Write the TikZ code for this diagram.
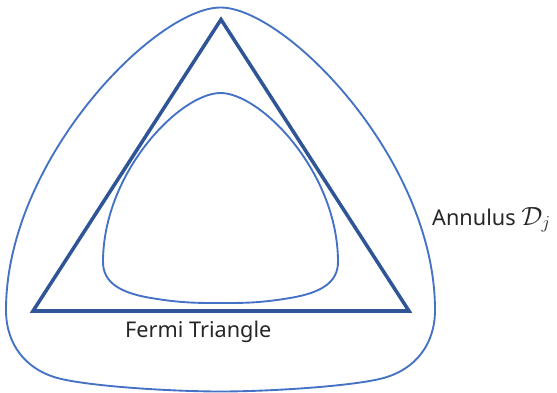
\documentclass[tikz,border=0pt]{standalone}
\usepackage{graphicx}
\usepackage{fontspec}
\setmainfont{Noto Sans}
\begin{document}
\begin{tikzpicture}[x=0.03cm,y=-0.03cm,
  curve/.style={draw=curveblue,line width=1.6pt},
  tri/.style={draw=triblue,line width=3pt,line join=miter},
  lab/.style={font=\fontsize{18.5}{22}\selectfont,text=black!85,inner sep=0pt}]
\definecolor{curveblue}{HTML}{4472C4}
\definecolor{triblue}{HTML}{2F5597}
\useasboundingbox (0,0) rectangle (557,393);
% outer curve (annulus boundary)
\draw[curve] (220.5,7.5) .. controls (285.5,7.5) and (435,160) .. (435,310)
  .. controls (435,345) and (415,368) .. (387,377)
  .. controls (359,386) and (270,391.5) .. (220.5,391.5)
  .. controls (171,391.5) and (82,386) .. (54,377)
  .. controls (26,368) and (6,345) .. (6,310)
  .. controls (6,160) and (155.5,7.5) .. cycle;
% inner curve
\draw[curve] (220.5,93) .. controls (260.5,93) and (338,172) .. (338,262)
  .. controls (338,283) and (320,293) .. (290,298)
  .. controls (260,303) and (245,303) .. (220.5,303)
  .. controls (196,303) and (181,303) .. (151,298)
  .. controls (121,293) and (103,283) .. (103,262)
  .. controls (103,172) and (180.5,93) .. cycle;
% Fermi triangle
\coordinate (A) at (221,19.5);
\coordinate (B) at (33,311);
\coordinate (C) at (409,311);
\draw[tri] (A) -- (B) -- (C) -- cycle;
\node[lab,anchor=base west] (fermi) at (125,337) {Fermi Triangle};
\node[lab,anchor=base west] (ann) at (432,225) {Annulus \scalebox{1.3}{$\mathcal{D}_j$}};
\end{tikzpicture}
\end{document}
